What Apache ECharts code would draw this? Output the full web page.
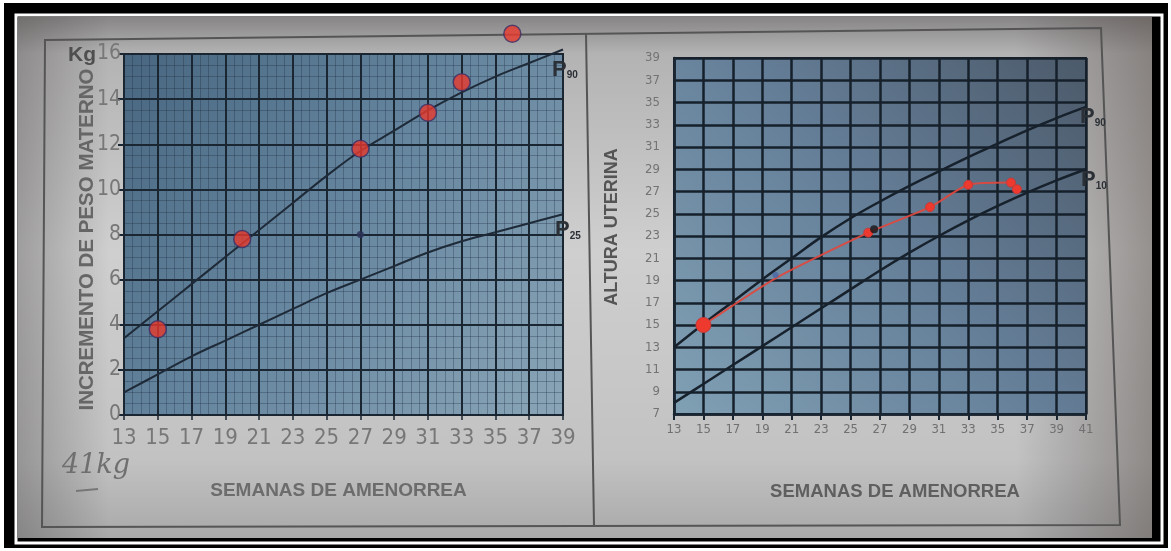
<!DOCTYPE html>
<html><head><meta charset="utf-8">
<script src="https://cdn.jsdelivr.net/npm/echarts@6/dist/echarts.min.js"></script>
<style>html,body{margin:0;padding:0;background:#fff}#c{width:1171px;height:551px}</style>
</head><body><div id="c"></div>
<script>
// ---------- data ----------
const weeksLeft   = [13,15,17,19,21,23,25,27,29,31,33,35,37,39];
const p90Weight   = [3.4,4.6,5.8,7.0,8.2,9.4,10.6,11.7,12.6,13.5,14.3,15.0,15.6,16.2];
const p25Weight   = [1.0,1.8,2.6,3.3,4.0,4.7,5.4,6.0,6.6,7.2,7.7,8.1,8.5,8.9];
const weightWeeks = [15,20,27,31,33,36];
const weightKg    = [3.8,7.8,11.8,13.4,14.75,16.9];
const weightMarkWeeks = [27];
const weightMarkKg    = [8.0];

const weeksRight  = [13,15,17,19,21,23,25,27,29,31,33,35,37,39,41];
const p90Height   = [13.0,15.1,17.1,19.1,21.0,22.9,24.6,26.1,27.5,28.8,30.1,31.3,32.5,33.6,34.6];
const p10Height   = [8.0,9.7,11.4,13.1,14.8,16.5,18.2,19.9,21.5,23.0,24.4,25.7,26.9,28.0,29.0];
const heightWeeks = [15,19.9,26.2,30.4,33,35.9,36.3];
const heightCm    = [15,19.2,23.3,25.6,27.6,27.8,27.2];
const blueMarkWeeks = [19.9];
const blueMarkCm    = [19.5];
const blackMarkWeeks = [26.6];
const blackMarkCm    = [23.6];

const leftXMin = 13, leftXMax = 39, leftYMin = 0, leftYMax = 16;
const rightXMin = 13, rightXMax = 41, rightYMin = 7, rightYMax = 39;
const tickStep = 2;

// ---------- helpers ----------
const narrow = "'Liberation Sans Narrow','DejaVu Sans Condensed','Roboto Condensed',sans-serif";
const bold = "'Liberation Sans',Arial,sans-serif";
const pairs = (xs, ys, x0, y0) => xs.map((x,i)=>[x - x0, ys[i] - y0]);
const dark = '#1b2633';

const chart = echarts.init(document.getElementById('c'), null, {renderer:'canvas'});

const leftBg = new echarts.graphic.LinearGradient(0,0,1,1,[
  {offset:0,color:'#48667f'},{offset:0.5,color:'#6787a0'},{offset:1,color:'#8aa5b7'}]);
const rightBg = new echarts.graphic.LinearGradient(1,0,0,1,[
  {offset:0,color:'#4c5a6a'},{offset:0.5,color:'#66809a'},{offset:1,color:'#80a0b4'}]);
const paperV = new echarts.graphic.LinearGradient(0,0,0,1,[
  {offset:0,color:'#878585'},{offset:0.07,color:'#b4b3b3'},{offset:0.45,color:'#cfcfcf'},
  {offset:0.85,color:'#c2c2c2'},{offset:1,color:'#a9a9a9'}]);
const paperH = new echarts.graphic.LinearGradient(0,0,1,0,[
  {offset:0,color:'rgba(70,65,65,0.35)'},{offset:0.08,color:'rgba(70,65,65,0)'},
  {offset:0.88,color:'rgba(70,65,65,0)'},{offset:1,color:'rgba(80,70,65,0.45)'}]);

const pLabel = (sub, off) => ({
  show:true, offset:off, formatter:'{p|P}{s|'+sub+'}',
  rich:{p:{fontSize:22,fontWeight:'bold',color:'#2b2f36',fontFamily:bold},
        s:{fontSize:10,fontWeight:'bold',color:'#2b2f36',fontFamily:bold,padding:[12,0,0,0]}}
});

const option = {
  animation:false,
  backgroundColor:'#ffffff',
  graphic:[
    {type:'rect',z:-20,shape:{x:4,y:3,width:1164,height:545},style:{fill:'#000'}},
    {type:'rect',z:-19,shape:{x:16,y:15,width:1146,height:528},style:{fill:'none',stroke:'#fff',lineWidth:3}},
    {type:'rect',z:-18,shape:{x:18,y:17,width:1134,height:521},style:{fill:paperV}},
    {type:'rect',z:-18,shape:{x:18,y:17,width:1134,height:521},style:{fill:paperH}},
    {type:'polygon',z:-17,shape:{points:[[45,40],[1101,28],[1120,525],[42,527]]},style:{fill:'none',stroke:'#555',lineWidth:2}},
    {type:'line',z:-17,shape:{x1:586,y1:33,x2:594,y2:526},style:{stroke:'#555',lineWidth:2}},
    {type:'text',z:5,left:68,top:45,style:{text:'Kg',fontSize:21,fontWeight:'bold',fill:'#4f4f4f',fontFamily:bold}},
    {type:'text',z:5,left:62,top:452,style:{text:'41kg',fontSize:27,fontStyle:'italic',fill:'#6f6f6f',fontFamily:"'DejaVu Serif',serif"}},
    {type:'line',z:5,shape:{x1:76,y1:491,x2:98,y2:489},style:{stroke:'#777',lineWidth:2}}
  ],
  grid:[
    {left:124,top:54,width:439,height:361,show:true,backgroundColor:leftBg,borderColor:dark,borderWidth:2},
    {left:674,top:58,width:412,height:356,show:true,backgroundColor:rightBg,borderColor:dark,borderWidth:2}
  ],
  xAxis:[
    {gridIndex:0,type:'value',min:0,max:leftXMax-leftXMin,interval:tickStep,
     name:'SEMANAS DE AMENORREA',nameLocation:'middle',nameGap:66,
     nameTextStyle:{fontSize:19,fontWeight:'bold',color:'#6c6c6c',fontFamily:bold,padding:[0,10,0,0]},
     axisLine:{show:true,lineStyle:{color:dark,width:2}},
     axisTick:{show:true,length:5,lineStyle:{color:dark,width:1.5}},
     axisLabel:{color:'#777',fontSize:22,fontFamily:narrow,margin:12,formatter:v=>String(v+leftXMin)},
     splitLine:{show:true,lineStyle:{color:dark,width:2}},
     minorTick:{show:false,splitNumber:4},
     minorSplitLine:{show:true,lineStyle:{color:'rgba(28,44,64,0.32)',width:1}}},
    {gridIndex:1,type:'value',min:0,max:rightXMax-rightXMin,interval:tickStep,
     name:'SEMANAS DE AMENORREA',nameLocation:'middle',nameGap:68,
     nameTextStyle:{fontSize:18.5,fontWeight:'bold',color:'#5f5f5f',fontFamily:bold,padding:[0,0,0,30]},
     axisLine:{show:true,lineStyle:{color:dark,width:2.5}},
     axisTick:{show:true,length:6,lineStyle:{color:dark,width:2}},
     axisLabel:{color:'#707070',fontSize:13,fontFamily:narrow,margin:9,formatter:v=>String(v+rightXMin)},
     splitLine:{show:true,lineStyle:{color:'#16202b',width:2.5}}}
  ],
  yAxis:[
    {gridIndex:0,type:'value',min:0,max:leftYMax-leftYMin,interval:tickStep,
     name:'INCREMENTO DE PESO MATERNO',nameLocation:'middle',nameGap:26,nameMoveOverlap:false,
     nameTextStyle:{fontSize:20.5,fontWeight:'bold',color:'#666',fontFamily:bold,padding:[0,10,0,0]},
     axisLine:{show:true,lineStyle:{color:dark,width:2}},
     axisTick:{show:true,length:6,lineStyle:{color:dark,width:2}},
     axisLabel:{color:'#777',fontSize:21,fontFamily:narrow,margin:3,formatter:v=>String(v+leftYMin)},
     splitLine:{show:true,lineStyle:{color:dark,width:2}},
     minorTick:{show:false,splitNumber:4},
     minorSplitLine:{show:true,lineStyle:{color:'rgba(28,44,64,0.32)',width:1}}},
    {gridIndex:1,type:'value',min:0,max:rightYMax-rightYMin,interval:tickStep,
     name:'ALTURA UTERINA',nameLocation:'middle',nameGap:53,
     nameTextStyle:{fontSize:18,fontWeight:'bold',color:'#555',fontFamily:bold,padding:[0,0,0,18]},
     axisLine:{show:true,lineStyle:{color:dark,width:2.5}},
     axisTick:{show:false},
     axisLabel:{color:'#737373',fontSize:13,fontFamily:narrow,margin:14,formatter:v=>String(v+rightYMin)},
     splitLine:{show:true,lineStyle:{color:'#16202b',width:2.5}}}
  ],
  series:[
    {type:'line',xAxisIndex:0,yAxisIndex:0,smooth:0.4,symbol:'none',clip:false,
     data:pairs(weeksLeft,p90Weight,leftXMin,leftYMin),
     lineStyle:{color:'#1e2a38',width:2},endLabel:pLabel('90',[-19,20])},
    {type:'line',xAxisIndex:0,yAxisIndex:0,smooth:0.4,symbol:'none',clip:false,
     data:pairs(weeksLeft,p25Weight,leftXMin,leftYMin),
     lineStyle:{color:'#1e2a38',width:2},endLabel:pLabel('25',[-16,16])},
    {type:'scatter',xAxisIndex:0,yAxisIndex:0,clip:false,symbolSize:7,
     data:pairs(weightMarkWeeks,weightMarkKg,leftXMin,leftYMin),
     itemStyle:{color:'#2b3358',opacity:0.85}},
    {type:'scatter',xAxisIndex:0,yAxisIndex:0,clip:false,symbolSize:17,z:5,
     data:pairs(weightWeeks,weightKg,leftXMin,leftYMin),
     itemStyle:{color:'#e8392c',borderColor:'#3b2f66',borderWidth:1.5}},

    {type:'line',xAxisIndex:1,yAxisIndex:1,smooth:0.4,symbol:'none',clip:false,
     data:pairs(weeksRight,p90Height,rightXMin,rightYMin),
     lineStyle:{color:'#17212c',width:2.5},endLabel:pLabel('90',[-14,10])},
    {type:'line',xAxisIndex:1,yAxisIndex:1,smooth:0.4,symbol:'none',clip:false,
     data:pairs(weeksRight,p10Height,rightXMin,rightYMin),
     lineStyle:{color:'#17212c',width:2.5},endLabel:pLabel('10',[-13,11])},
    {type:'scatter',xAxisIndex:1,yAxisIndex:1,symbolSize:6,z:6,
     data:pairs(blueMarkWeeks,blueMarkCm,rightXMin,rightYMin),itemStyle:{color:'#4a66a6'}},
    {type:'line',xAxisIndex:1,yAxisIndex:1,smooth:0.2,z:5,
     data:pairs(heightWeeks,heightCm,rightXMin,rightYMin),
     symbol:'circle',showSymbol:true,
     symbolSize:(v,p)=>p.dataIndex===0?15:(p.dataIndex===1?0:9),
     lineStyle:{color:'#e2473c',width:2,opacity:0.9},
     itemStyle:{color:'#ee3a2e',borderColor:'#c23a3a',borderWidth:1}},
    {type:'scatter',xAxisIndex:1,yAxisIndex:1,symbolSize:8,z:7,
     data:pairs(blackMarkWeeks,blackMarkCm,rightXMin,rightYMin),itemStyle:{color:'#151515'}}
  ]
};
chart.setOption(option);
</script></body></html>
